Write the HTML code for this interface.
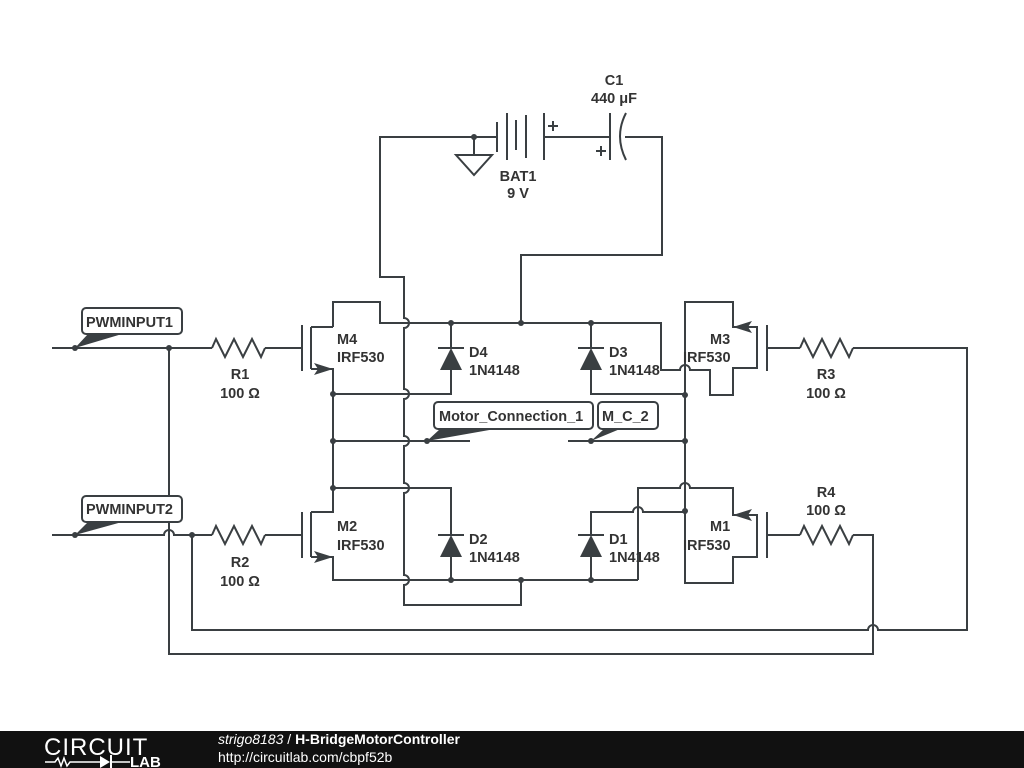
<!DOCTYPE html>
<html><head><meta charset="utf-8"><style>
html,body{margin:0;padding:0;background:#fff;}
svg{display:block}
text{font-family:"Liberation Sans",sans-serif;font-weight:bold;font-size:14.5px;fill:#333}
</style></head><body>
<svg width="1024" height="768" viewBox="0 0 1024 768">
<g stroke="#3a3f42" stroke-width="2" fill="none">
<path d="M404,600 V585 a5,5 0 0 0 0,-10 V493 a5,5 0 0 0 0,-10 V446 a5,5 0 0 0 0,-10 V399 a5,5 0 0 0 0,-10 V328 a5,5 0 0 0 0,-10 V277 H380 V137 H497"/>
<path d="M404,600 V605 H521 V580"/>
<path d="M544,137 H610 M625,137 H662 V255 H521 V323"/>
<path d="M474,137 V155 M456,155 H492 L474,175 Z"/>
<path d="M497,122 V152 M507,113 V160 M516,120 V150 M526,115 V158 M544,113 V160"/>
<path d="M548,126 H558 M553,121 V131 M596,151 H606 M601,146 V156"/>
<path d="M610,113 V160 M626,113 Q614,136 626,160"/>
<path d="M333,327 V302 H380 V323 H661 V370 H680 a5,5 0 0 1 10,0 H710 V395 H733 V368 H757 V327 H733 V302 H685 V583 H733 V557 H757 V515 H733 V488 H690 a5,5 0 0 0 -10,0 H638 V580"/>
<path d="M302,325 V371 M311,327 V369 M311,327 H333 M311,369 H333 V394 H451 V370"/>
<path d="M451,348 V323 M591,348 V323 M591,370 V394 H685"/>
<path d="M333,394 V512 H311 M311,512 V557 M302,512 V558 M311,557 H333 V580 H638"/>
<path d="M333,488 H451 V535 M451,557 V580 M591,557 V580 M591,535 V512 H633 a5,5 0 0 1 10,0 H685"/>
<path d="M333,441 H470 M568,441 H685"/>
<path d="M767,325 V371 M767,512 V558 M767,348 H800 M853,348 H967 V630 H878 a5,5 0 0 0 -10,0 H192 V535 M767,535 H800 M853,535 H873 V654 H169 V348"/>
<path d="M52,348 H212 M265,348 H302 M52,535 H164 a5,5 0 0 1 10,0 H212 M265,535 H302"/>
<path d="M212,348 l4,-9 l9,18 l9,-18 l9,18 l9,-18 l9,18 l4,-9"/>
<path d="M212,535 l4,-9 l9,18 l9,-18 l9,18 l9,-18 l9,18 l4,-9"/>
<path d="M800,348 l4,-9 l9,18 l9,-18 l9,18 l9,-18 l9,18 l4,-9"/>
<path d="M800,535 l4,-9 l9,18 l9,-18 l9,18 l9,-18 l9,18 l4,-9"/>
<path d="M438,348 H464 M578,348 H604 M438,535 H464 M578,535 H604"/>
<rect x="82" y="308" width="100" height="26" rx="4" fill="#fff"/>
<rect x="82" y="496" width="100" height="26" rx="4" fill="#fff"/>
<rect x="434" y="402" width="159" height="27" rx="4" fill="#fff"/>
<rect x="598" y="402" width="60" height="27" rx="4" fill="#fff"/>
</g>
<g fill="#3a3f42">
<polygon points="451,348 440,370 462,370"/><polygon points="591,348 580,370 602,370"/>
<polygon points="451,535 440,557 462,557"/><polygon points="591,535 580,557 602,557"/>
<polygon points="333,369 314,363 318,369 314,375"/><polygon points="333,557 314,551 318,557 314,563"/>
<polygon points="733,327 752,321 748,327 752,333"/><polygon points="733,515 752,509 748,515 752,521"/>
<polygon points="75,348 88,334 122,334"/><polygon points="75,535 88,522 122,522"/>
<polygon points="427,441 440,429 495,429"/><polygon points="591,441 604,429 620,429"/>
<circle cx="474" cy="137" r="3"/><circle cx="451" cy="323" r="3"/><circle cx="521" cy="323" r="3"/><circle cx="591" cy="323" r="3"/>
<circle cx="333" cy="394" r="3"/><circle cx="333" cy="441" r="3"/><circle cx="333" cy="488" r="3"/>
<circle cx="685" cy="395" r="3"/><circle cx="685" cy="441" r="3"/><circle cx="685" cy="511" r="3"/>
<circle cx="451" cy="580" r="3"/><circle cx="521" cy="580" r="3"/><circle cx="591" cy="580" r="3"/>
<circle cx="169" cy="348" r="3"/><circle cx="192" cy="535" r="3"/><circle cx="75" cy="348" r="3"/><circle cx="75" cy="535" r="3"/>
<circle cx="427" cy="441" r="3"/><circle cx="591" cy="441" r="3"/>
</g>
<text x="86" y="327">PWMINPUT1</text>
<text x="86" y="514">PWMINPUT2</text>
<text x="439" y="421">Motor_Connection_1</text>
<text x="602" y="421">M_C_2</text>
<text x="614" y="85" text-anchor="middle">C1</text><text x="614" y="103" text-anchor="middle">440 μF</text>
<text x="518" y="181" text-anchor="middle">BAT1</text><text x="518" y="198" text-anchor="middle">9 V</text>
<text x="240" y="379" text-anchor="middle">R1</text><text x="240" y="398" text-anchor="middle">100 Ω</text>
<text x="240" y="567" text-anchor="middle">R2</text><text x="240" y="586" text-anchor="middle">100 Ω</text>
<text x="826" y="379" text-anchor="middle">R3</text><text x="826" y="398" text-anchor="middle">100 Ω</text>
<text x="826" y="497" text-anchor="middle">R4</text><text x="826" y="515" text-anchor="middle">100 Ω</text>
<text x="337" y="344">M4</text><text x="337" y="362">IRF530</text>
<text x="337" y="531">M2</text><text x="337" y="550">IRF530</text>
<text x="710" y="344">M3</text><text x="683" y="362">IRF530</text>
<text x="710" y="531">M1</text><text x="683" y="550">IRF530</text>
<text x="469" y="357">D4</text><text x="469" y="375">1N4148</text>
<text x="609" y="357">D3</text><text x="609" y="375">1N4148</text>
<text x="469" y="544">D2</text><text x="469" y="562">1N4148</text>
<text x="609" y="544">D1</text><text x="609" y="562">1N4148</text>
<rect x="0" y="731" width="1024" height="37" fill="#111"/>
<text x="44" y="755" style="font-weight:normal;font-size:24px;fill:#fff;letter-spacing:1px">CIRCUIT</text>
<path d="M45,762 H55 l3,-4 3,8 3,-8 3,8 3,-4 H100 M112,762 H130" stroke="#fff" stroke-width="1.5" fill="none"/>
<polygon points="100,756 100,768 110,762" fill="#fff"/><path d="M111,755 V769" stroke="#fff" stroke-width="2"/>
<text x="130" y="767" style="font-size:15px;fill:#fff">LAB</text>
<text x="218" y="744" style="font-size:14px;fill:#fff"><tspan style="font-style:italic;font-weight:normal">strigo8183</tspan><tspan style="font-weight:normal"> / </tspan>H-BridgeMotorController</text>
<text x="218" y="762" style="font-size:14px;font-weight:normal;fill:#fff">http://circuitlab.com/cbpf52b</text>
</svg>
</body></html>
